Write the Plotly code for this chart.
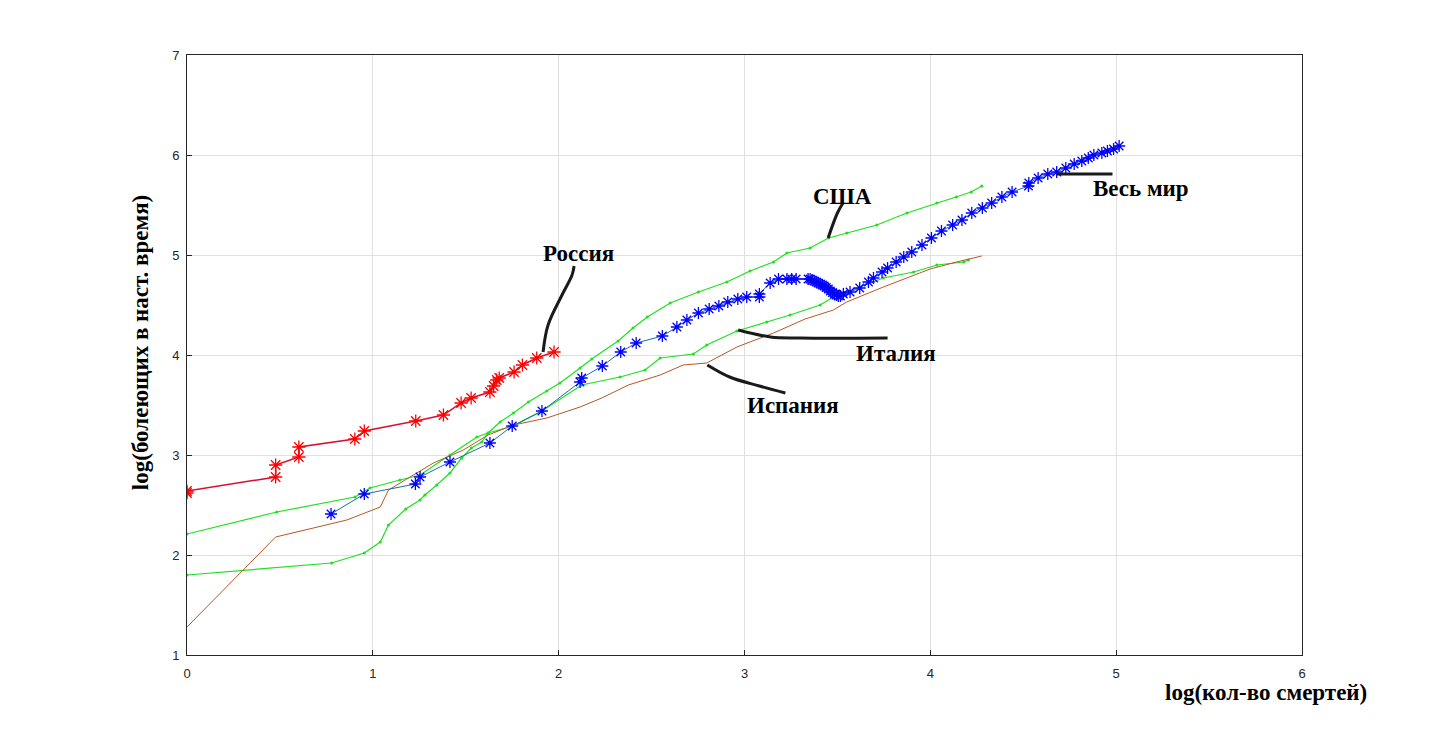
import plotly.graph_objects as go

# Россия
rus_x = [0, 0, 0.477, 0.477, 0.602, 0.602, 0.903, 0.954, 1.231, 1.38, 1.475, 1.529,
         1.63, 1.65, 1.667, 1.68, 1.76, 1.805, 1.882, 1.975]
rus_y = [2.62, 2.64, 2.78, 2.90, 2.98, 3.08, 3.16, 3.24, 3.34, 3.40, 3.52, 3.57,
         3.63, 3.69, 3.75, 3.77, 3.83, 3.90, 3.97, 4.03]

# Весь мир
world_x = [0.775, 0.954, 1.229, 1.254, 1.415, 1.63, 1.75, 1.91, 2.115, 2.124, 2.235,
           2.334, 2.417, 2.558, 2.636, 2.69, 2.752, 2.81, 2.862, 2.91, 2.964, 3.012,
           3.08, 3.08, 3.138, 3.183, 3.228, 3.254, 3.278,
           3.342, 3.353, 3.364, 3.375, 3.386, 3.397, 3.408, 3.419, 3.429, 3.44, 3.451,
           3.462, 3.473, 3.484, 3.495, 3.505, 3.516,
           3.532, 3.568, 3.62, 3.667, 3.694, 3.74, 3.77, 3.816, 3.857, 3.90, 3.955,
           4.006, 4.06, 4.12, 4.17, 4.223, 4.28, 4.33, 4.385, 4.44, 4.528, 4.53, 4.58,
           4.632, 4.68, 4.729, 4.774, 4.815, 4.85, 4.88, 4.923, 4.953, 4.986, 5.016]
world_y = [2.41, 2.61, 2.71, 2.78, 2.93, 3.12, 3.29, 3.44, 3.73, 3.77, 3.89,
           4.03, 4.12, 4.19, 4.28, 4.35, 4.42, 4.46, 4.49, 4.53, 4.56, 4.58,
           4.58, 4.61, 4.72, 4.76, 4.76, 4.76, 4.76,
           4.76, 4.76, 4.75, 4.74, 4.73, 4.72, 4.71, 4.70, 4.69, 4.675, 4.66,
           4.64, 4.625, 4.61, 4.60, 4.59, 4.59,
           4.61, 4.63, 4.67, 4.73, 4.77, 4.83, 4.87, 4.93, 4.98, 5.03, 5.10,
           5.17, 5.24, 5.30, 5.35, 5.42, 5.47, 5.52, 5.58, 5.63, 5.69, 5.72, 5.77,
           5.81, 5.83, 5.87, 5.91, 5.94, 5.97, 6.00, 6.02, 6.04, 6.06, 6.09]

# США
usa_x = [0, 0.778, 0.954, 1.04, 1.084, 1.177, 1.254, 1.28, 1.344, 1.415, 1.478, 1.53,
         1.586, 1.62, 1.685, 1.757, 1.837, 1.936, 2.007, 2.115, 2.178, 2.32, 2.40,
         2.477, 2.60, 2.752, 2.905, 3.03, 3.156, 3.228, 3.353, 3.452, 3.55, 3.712,
         3.874, 4.035, 4.14, 4.22, 4.277]
usa_y = [1.80, 1.92, 2.02, 2.13, 2.30, 2.46, 2.55, 2.60, 2.70, 2.82, 2.97, 3.07,
         3.13, 3.22, 3.33, 3.42, 3.53, 3.64, 3.72, 3.87, 3.96, 4.14, 4.27,
         4.38, 4.52, 4.63, 4.73, 4.84, 4.93, 5.02, 5.07, 5.17, 5.22, 5.30,
         5.42, 5.52, 5.58, 5.63, 5.69]

# Италия
ita_x = [0, 0.483, 0.904, 0.985, 1.146, 1.254, 1.415, 1.56, 1.62, 1.757, 1.91, 2.124,
         2.33, 2.465, 2.546, 2.725, 2.797, 2.959, 3.12, 3.245, 3.407, 3.47, 3.747,
         3.91, 4.035, 4.18, 4.205]
ita_y = [2.21, 2.43, 2.58, 2.67, 2.75, 2.80, 3.00, 3.18, 3.22, 3.29, 3.44, 3.70,
         3.78, 3.85, 3.97, 4.01, 4.10, 4.24, 4.33, 4.40, 4.50, 4.57, 4.77,
         4.83, 4.90, 4.93, 4.95]

# Испания
esp_x = [0, 0.477, 0.86, 1.04, 1.084, 1.326, 1.487, 1.62, 1.757, 1.936, 2.115, 2.232,
         2.375, 2.546, 2.67, 2.797, 2.959, 3.156, 3.326, 3.478, 3.55, 3.747, 3.999,
         4.14, 4.277]
esp_y = [1.28, 2.18, 2.35, 2.48, 2.65, 2.92, 3.05, 3.20, 3.30, 3.37, 3.48, 3.57,
         3.70, 3.80, 3.90, 3.92, 4.08, 4.22, 4.36, 4.45, 4.53, 4.68, 4.86,
         4.93, 4.99]

# подписи и выноски
labels = ["Россия", "США", "Весь мир", "Италия", "Испания"]
label_x = [2.105, 3.53, 5.135, 3.816, 3.26]
label_y = [5.02, 5.59, 5.67, 4.02, 3.50]
leaders = [
    ([1.916, 1.943, 2.018, 2.072, 2.083], [4.03, 4.30, 4.60, 4.80, 4.89]),
    ([3.45, 3.50, 3.53], [5.17, 5.42, 5.52]),
    ([4.68, 4.98], [5.81, 5.81]),
    ([2.966, 3.14, 3.30, 3.77], [4.25, 4.18, 4.17, 4.17]),
    ([2.80, 2.92, 3.08, 3.22], [3.90, 3.78, 3.69, 3.62]),
]

fig = go.Figure()

fig.add_trace(go.Scatter(x=usa_x, y=usa_y, mode="lines+markers",
                         line=dict(color="#1ee01e", width=1.2),
                         marker=dict(size=3, color="#1ee01e")))
fig.add_trace(go.Scatter(x=ita_x, y=ita_y, mode="lines+markers",
                         line=dict(color="#1ee01e", width=1.2),
                         marker=dict(size=3, color="#1ee01e")))
fig.add_trace(go.Scatter(x=esp_x, y=esp_y, mode="lines",
                         line=dict(color="#b8562a", width=1)))
fig.add_trace(go.Scatter(x=world_x, y=world_y, mode="lines+markers",
                         line=dict(color="#1a6fa8", width=1),
                         marker=dict(symbol="asterisk-open", size=10, color="#0000ff",
                                     line=dict(color="#0000ff", width=1.3))))
fig.add_trace(go.Scatter(x=rus_x, y=rus_y, mode="lines+markers",
                         line=dict(color="#d8102e", width=1.5),
                         marker=dict(symbol="asterisk-open", size=11, color="#ff0000",
                                     line=dict(color="#ff0000", width=1.3))))

for lx, ly in leaders:
    fig.add_trace(go.Scatter(x=lx, y=ly, mode="lines",
                             line=dict(color="#1a1a1a", width=3, shape="spline")))

for t, x, y in zip(labels, label_x, label_y):
    fig.add_annotation(x=x, y=y, text="<b>" + t + "</b>", showarrow=False,
                       font=dict(family="Liberation Serif", size=23, color="black"))

fig.add_annotation(x=1.06, y=-0.062, xref="paper", yref="paper", xanchor="right",
                   yanchor="middle", text="<b>log(кол-во смертей)</b>", showarrow=False,
                   font=dict(family="Liberation Serif", size=23, color="black"))
fig.add_annotation(x=-0.042, y=0.52, xref="paper", yref="paper", textangle=-90,
                   xanchor="center", yanchor="middle",
                   text="<b>log(болеющих в наст. время)</b>", showarrow=False,
                   font=dict(family="Liberation Serif", size=23, color="black"))

axis = dict(showgrid=True, gridcolor="#e0e0e0", gridwidth=1, zeroline=False,
            showline=True, linecolor="#262626", linewidth=1, mirror=True,
            ticks="inside", ticklen=5, tickcolor="#262626", dtick=1,
            tickfont=dict(family="Liberation Sans", size=13, color="#262626"))

fig.update_layout(
    width=1440, height=737,
    margin=dict(l=179, r=146, t=47, b=90),
    paper_bgcolor="white", plot_bgcolor="white",
    showlegend=False,
    xaxis=dict(axis, range=[0, 6], ticklabelstandoff=6),
    yaxis=dict(axis, range=[1, 7], ticklabelstandoff=4),
)

fig.write_html("out.html")
